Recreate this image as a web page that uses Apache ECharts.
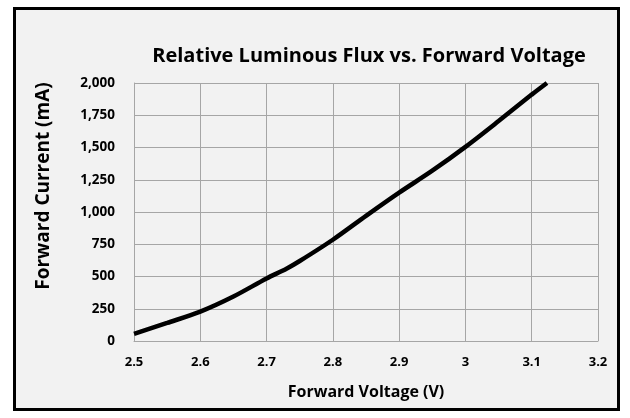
<!DOCTYPE html>
<html>
<head>
<meta charset="utf-8">
<script src="https://cdn.jsdelivr.net/npm/echarts@6/dist/echarts.min.js"></script>
<style>
  html, body { margin: 0; padding: 0; background: #fff; }
  #frame {
    position: absolute; left: 13px; top: 7px;
    width: 601px; height: 398px;
    border: 3px solid #000; background: #f2f2f2;
  }
  #chart { position: absolute; left: 0; top: 0; width: 630px; height: 418px; }
</style>
</head>
<body>
<div id="frame"></div>
<div id="chart"></div>
<script>
// 正向电压 (V) / 正向电流 (mA)
var voltage = [2.5, 2.55, 2.6, 2.65, 2.7, 2.73, 2.75, 2.8, 2.85, 2.9, 2.95, 3.0, 3.05, 3.1, 3.123];
var current = [55, 140, 228, 345, 485, 560, 620, 785, 970, 1150, 1320, 1505, 1705, 1910, 2000];

var titleText = 'Relative Luminous Flux vs. Forward Voltage';
var xName = 'Forward Voltage (V)';
var yName = 'Forward Current (mA)';

(function() {
    var chartInstance, option, i, points = [];
    var font = '"Open Sans", sans-serif';

    for (i = 0; i < voltage.length; i++) {
        points.push([voltage[i], current[i]]);
    }

    chartInstance = echarts.init(document.getElementById('chart'));
    option = {
        backgroundColor: 'transparent',
        animation: false,
        title: {
            text: titleText,
            left: 364,
            textAlign: 'center',
            top: 41,
            textStyle: {
                fontFamily: font,
                fontWeight: 'bold',
                fontSize: 20,
                color: '#000'
            }
        },
        grid: {
            left: 134,
            right: 32,
            top: 83,
            bottom: 77
        },
        xAxis: {
            type: 'value',
            min: 2.5,
            max: 3.2,
            interval: 0.1,
            name: xName,
            nameLocation: 'middle',
            nameGap: 43,
            nameTextStyle: {
                fontFamily: font,
                fontWeight: 'bold',
                fontSize: 16,
                color: '#000'
            },
            axisLine: { lineStyle: { color: '#a6a6a6', width: 1 } },
            axisTick: { show: false },
            axisLabel: {
                margin: 15,
                fontFamily: font,
                fontWeight: 'bold',
                fontSize: 13,
                color: '#000',
                formatter: function(v) { return String(+v.toFixed(1)); }
            },
            splitLine: { lineStyle: { color: '#a6a6a6', width: 1 } }
        },
        yAxis: {
            type: 'value',
            min: 0,
            max: 2000,
            interval: 250,
            name: yName,
            nameLocation: 'middle',
            nameGap: 81,
            nameTextStyle: {
                fontFamily: font,
                fontWeight: 'bold',
                fontSize: 19,
                color: '#000',
                padding: [0, 0, 0, 52]
            },
            axisLine: { show: true, lineStyle: { color: '#a6a6a6', width: 1 } },
            axisTick: { show: false },
            axisLabel: {
                margin: 19,
                fontFamily: font,
                fontWeight: 'bold',
                fontSize: 13.5,
                color: '#000',
                formatter: function(v) { return v.toLocaleString('en-US'); }
            },
            splitLine: { lineStyle: { color: '#a6a6a6', width: 1 } }
        },
        series: [
            {
                type: 'line',
                data: points,
                showSymbol: false,
                smooth: 0.3,
                lineStyle: { color: '#000', width: 4.5 }
            }
        ]
    };

    chartInstance.setOption(option);
    return chartInstance;
})();
</script>
</body>
</html>
